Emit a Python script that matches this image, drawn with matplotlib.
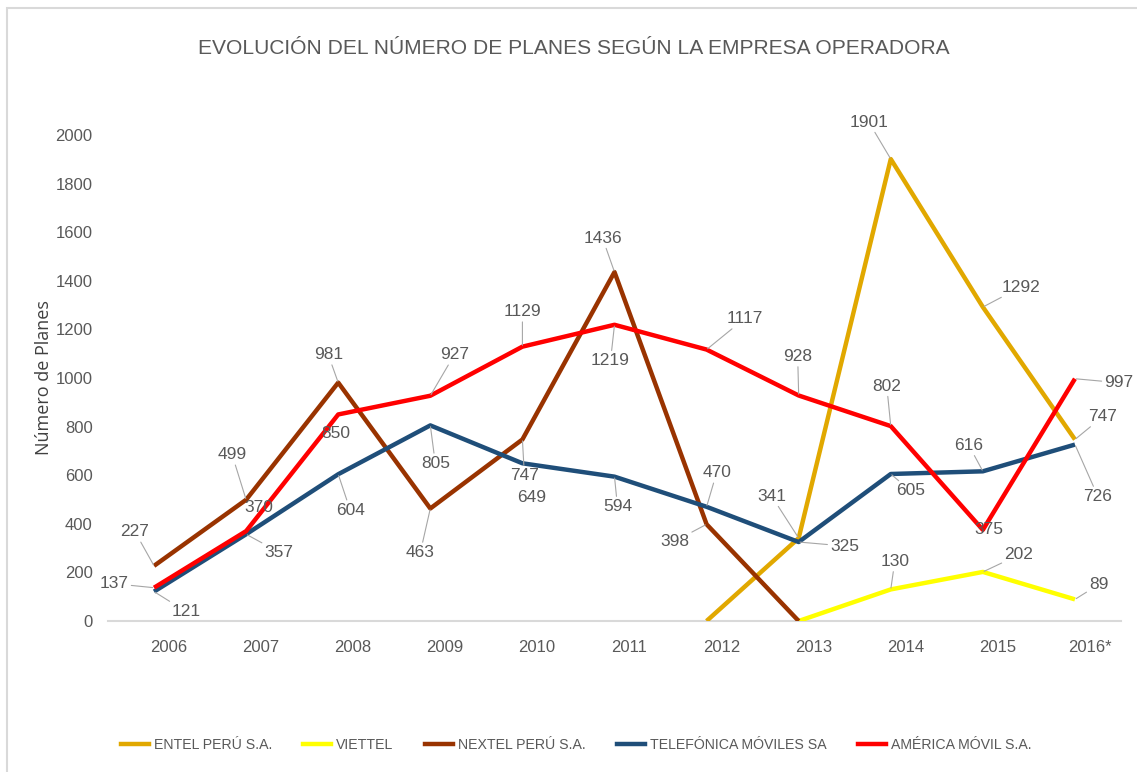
import numpy as np
import matplotlib
matplotlib.use('Agg')
import matplotlib.pyplot as plt
from matplotlib.patches import Rectangle
from matplotlib.lines import Line2D

# ---------------- data ----------------
years = ['2006', '2007', '2008', '2009', '2010', '2011', '2012', '2013', '2014', '2015', '2016*']
nan = np.nan
entel = [nan, nan, nan, nan, nan, nan, 0, 341, 1901, 1292, 747]
viettel = [nan, nan, nan, nan, nan, nan, nan, 0, 130, 202, 89]
nextel = [227, 499, 981, 463, 747, 1436, 398, 0, nan, nan, nan]
telefonica = [121, 357, 604, 805, 649, 594, 470, 325, 605, 616, 726]
america = [137, 370, 850, 927, 1129, 1219, 1117, 928, 802, 375, 997]
series_names = ['ENTEL PERÚ S.A.', 'VIETTEL', 'NEXTEL PERÚ S.A.', 'TELEFÓNICA MÓVILES SA', 'AMÉRICA MÓVIL S.A.']
yticks = [0, 200, 400, 600, 800, 1000, 1200, 1400, 1600, 1800, 2000]
title = 'EVOLUCIÓN DEL NÚMERO DE PLANES SEGÚN LA EMPRESA OPERADORA'
ylabel = 'Número de Planes'

# ---------------- style ----------------
colors = ['#E1A800', '#FFFF00', '#993300', '#1F4E79', '#FF0000']
# label offsets in pixels (dx, dy) for each point; None = no label
N = None
offsets = [
    [N, N, N, N, N, N, N, (-27, 42), (-22, 37), (38, 20), (28, 23)],
    [N, N, N, N, N, N, N, N, (4, 28), (36, 17), (24, 15)],
    [(-19, 34), (-14, 45), (-10, 28), (-10, -44), (2, -36), (-12, 34), (-32, -17), N, N, N, N],
    [(32, -20), (33, -18), (12, -36), (5, -38), (9, -34), (3, -30), (10, 34), (46, -4), (20, -17), (-14, 26), (23, -52)],
    [(-40, 4), (13, 24), (-2, -19), (24, 41), (0, 35), (-4, -36), (38, 31), (-1, 39), (-4, 40), (6, 0), (44, -4)],
]
no_leader = {(3, 4), (4, 1), (4, 2), (4, 9)}

plt.rcParams['font.family'] = ['Liberation Sans', 'DejaVu Sans']

W, H = 1137, 772
fig = plt.figure(figsize=(W / 100, H / 100), dpi=100)
ax = fig.add_axes([108 / W, 1 - 621 / H, (1121 - 108) / W, (621 - 135) / H])

x = np.arange(len(years))
data = [entel, viettel, nextel, telefonica, america]
for si, (vals, col) in enumerate(zip(data, colors)):
    v = np.array(vals, dtype=float)
    ax.plot(x, v, color=col, lw=3.2, solid_joinstyle='round', solid_capstyle='butt', zorder=2 + si)

for si, vals in enumerate(data):
    for i, val in enumerate(vals):
        off = offsets[si][i]
        if off is None or np.isnan(val):
            continue
        ap = None
        if (si, i) not in no_leader:
            ap = dict(arrowstyle='-', color='#a6a6a6', lw=0.8, shrinkA=0, shrinkB=1)
        ax.annotate(f'{int(val)}', xy=(x[i], val), xytext=off, textcoords='offset pixels',
                    ha='center', va='center', fontsize=12.5, color='#595959',
                    arrowprops=ap, zorder=10, annotation_clip=False)

ax.set_xlim(-0.5, len(years) - 0.5)
ax.set_ylim(0, 2000)
ax.set_yticks(yticks)
ax.set_yticklabels([str(t) for t in yticks])
ax.set_xticks(x + 0.16)
ax.set_xticklabels(years)
ax.tick_params(axis='both', length=0, labelsize=12, labelcolor='#595959')
ax.tick_params(axis='y', pad=11)
ax.tick_params(axis='x', pad=14)
for s in ['top', 'right', 'left']:
    ax.spines[s].set_visible(False)
ax.spines['bottom'].set_color('#d9d9d9')
ax.spines['bottom'].set_linewidth(1.5)
ax.spines['bottom'].set_zorder(1)
ax.set_facecolor('none')

ttl = fig.text(574 / W, 1 - 48 / H, title, ha='center', va='center', fontsize=20, color='#595959')
fig.text(44 / W, 1 - 378 / H, ylabel, rotation=90, ha='center', va='center', fontsize=13,
         color='#404040', family=['Open Sans', 'DejaVu Sans'])

handles = [Line2D([0], [0], color=c, lw=3.2) for c in colors]


def make_legend(fs):
    return fig.legend(handles, series_names, loc='center', bbox_to_anchor=(576 / W, 1 - 745 / H), ncol=5,
                      frameon=False, handlelength=2.0, handletextpad=0.35, columnspacing=2.2,
                      fontsize=fs, labelcolor='#595959')


leg_fs = 11.5
leg = make_legend(leg_fs)

fig.add_artist(Rectangle((7 / W, -0.05), 1.1, (1 - 8 / H) + 0.05, transform=fig.transFigure,
                         fill=False, ec='#d9d9d9', lw=1.5))

# fit title and legend widths to the reference layout
fig.canvas.draw()
r = fig.canvas.get_renderer()
tw = ttl.get_window_extent(r).width
ttl.set_fontsize(20 * 748 / tw)
lw_ = leg.get_window_extent(r).width
leg.remove()
leg = make_legend(leg_fs * 925 / lw_)

fig.savefig('out.png', dpi=100)
